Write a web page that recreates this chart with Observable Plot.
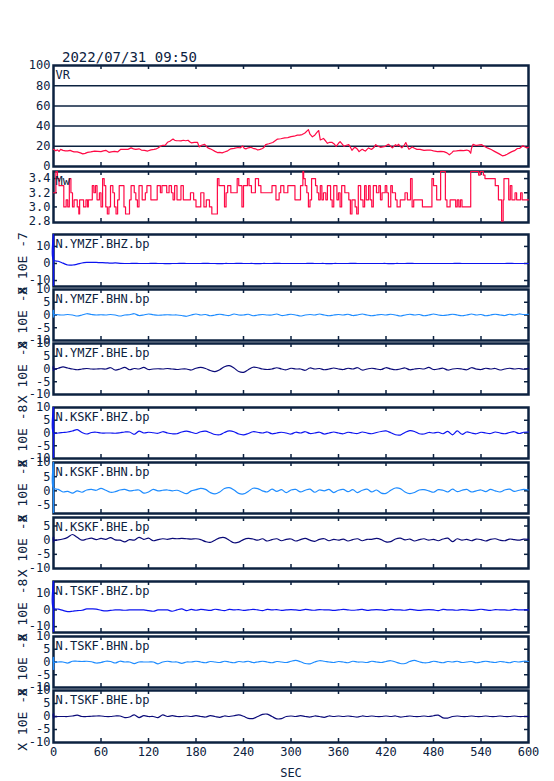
<!DOCTYPE html>
<html><head><meta charset="utf-8">
<script src="https://cdn.jsdelivr.net/npm/d3@7"></script>
<script src="https://cdn.jsdelivr.net/npm/@observablehq/plot@0.6"></script>
<style>
body{margin:0;background:#fff;}
#wrap{position:relative;width:554px;height:781px;font-family:"DejaVu Sans Mono",monospace;color:#0c2240;}
#title{position:absolute;left:62px;top:49px;font-size:14px;line-height:16px;white-space:pre;}
</style></head><body>
<div id="wrap"><div id="title">2022/07/31 09:50</div></div>
<script>
// ---------- data ----------
const xTickMarks = [60,120,180,240,300,360,420,480,540];
const xTickLabels = [0,60,120,180,240,300,360,420,480,540,600];

const vrSec = [0,3,5,7,9,12,15,18,21,24,26,30,34,37,40,43,47,52,56,60,63,66,70,73,77,81,85,89,94,98,101,104,108,111,115,119,123,127,130,132,135,138,141,144,147,151,153,155,158,161,164,167,170,172,174,178,182,184,187,191,193,195,198,201,204,207,210,213,216,220,224,228,233,236,239,241,243,246,249,252,255,258,261,264,266,268,272,277,280,283,287,292,296,300,304,308,311,314,316,318,320,322,324,327,330,333,335,337,339,341,344,346,349,352,355,357,360,362,365,367,370,373,375,377,379,381,384,386,388,390,392,394,396,398,400,402,405,407,410,413,416,419,421,423,426,428,430,432,434,436,438,440,443,445,447,449,451,453,456,459,463,468,472,476,480,485,489,493,497,500,503,505,509,514,518,522,525,527,528,530,533,535,538,541,544,548,551,554,557,560,563,567,570,573,576,579,583,586,589,593,595,598,600];
const vrVal = [17,15.5,16.5,15,17,16,15.5,15.5,16,15,14.5,14.5,13.5,12.5,13,14,14.5,15.3,15,14.7,15.5,16,14,14.5,15,14.4,17,17,17,18.4,17.5,17,17.5,16.3,16,15.3,16.5,17,17.5,18.4,20,21,21,24,25,27.2,26,25.6,25.5,25.3,26,25.5,26,24.5,23.4,23.8,23.8,19.4,21,22,20,18.4,17.5,16.3,15,13.8,14,13.5,14.4,15.5,17.5,18,18.8,18.5,20.3,18,17.5,18.5,19,18,17.5,16.3,17,17.8,19,21.6,22.5,23.8,25.5,27.2,27.5,28.4,28.6,29.6,30,31,31,31.6,32.5,33.4,35,36.5,32,29.4,31,34,35.6,26.3,27,27.8,25,23,24,23.8,22,20,23,24.7,22,20,21,21.6,19,16,18,19,17,14.7,16,17,16,15.3,17,18.4,17.5,17,19,21.6,20,19,19.5,20,21,22,20,18.4,20,21.6,20.5,22,20,18.4,21,23.75,20,17,18,19.4,18,17,17,16,16.3,16.3,15.5,14.7,15,14.7,13.5,11.6,13.5,15.3,15.5,16,15.8,16.3,15.5,13.1,18,22,21,21,21.5,21.6,20,18.4,17.5,16.3,15,13.75,12.5,10.6,11,12.2,13.5,14.7,16,17.8,18,20.6,19.5,18.4,19];

const mwSec = [0,3,5,7,13,16,18,20,22,24,26,30,32,33,38,41,43,44,49,51,53,55,58,60,62,64,66,68,70,72,75,77,79,81,83,89,91,96,98,102,104,106,108,112,116,118,123,131,135,137,143,146,149,151,153,156,161,164,173,177,180,186,190,193,197,200,207,209,216,218,220,224,232,234,238,240,245,247,250,255,259,262,276,281,285,287,291,296,305,312,315,316,318,320,322,324,326,331,333,335,337,339,341,344,346,350,352,354,358,360,362,364,368,373,375,377,381,383,385,388,391,393,395,398,400,402,404,408,411,413,415,419,421,423,426,428,432,434,438,444,447,451,453,455,466,478,480,484,489,495,497,501,508,510,512,514,516,527,537,539,543,545,558,562,566,568,569,573,575,577,579,583,585,590,592,600];
const mwVal = [3.2,3.5,3.4,3.3,3.0,3.1,3.0,3.4,3.2,3.0,3.1,3.0,2.9,3.1,3.0,3.1,3.0,3.1,3.3,3.2,3.3,3.1,3.2,3.0,3.4,3.3,3.0,2.9,3.0,3.3,3.2,3.0,2.9,3.1,3.3,3.0,2.9,3.1,3.3,3.2,3.1,3.0,3.3,3.1,3.2,3.3,3.1,3.3,3.2,3.3,3.2,3.3,3.2,3.1,3.3,3.1,3.3,3.1,3.2,3.1,3.0,3.2,3.0,3.1,3.0,2.9,3.4,3.3,3.0,3.2,3.3,3.2,3.4,3.3,3.0,3.3,3.4,3.3,3.2,3.4,3.3,3.2,3.3,3.1,3.2,3.3,3.2,3.3,3.1,3.3,3.5,3.4,3.3,3.2,3.0,3.1,3.4,3.3,3.2,3.1,3.3,3.1,3.2,3.1,3.3,3.1,3.0,3.3,3.1,3.2,3.0,3.3,3.2,3.1,2.9,3.1,3.0,2.9,3.3,3.1,3.0,3.3,3.1,3.3,3.1,3.0,3.3,3.2,3.3,3.1,3.2,3.3,3.2,3.0,3.3,3.2,3.1,3.0,3.1,3.2,3.1,3.4,3.0,3.1,3.0,3.4,3.3,3.1,3.5,3.1,3.0,3.1,3.0,3.1,3.0,3.1,3.0,3.5,3.45,3.5,3.45,3.4,3.3,3.1,2.8,3.1,3.4,3.4,3.1,3.3,3.1,3.2,3.1,3.2,3.1,3.1];

// seismogram samples every 6 s (0..600)
const seisT = d3.range(0, 601, 6);
const ymzfBHZ = [2.0,1.3,0.2,-0.9,-0.9,-0.4,0.3,0.6,0.7,0.6, 0.5,0.4,0.2,0.3,0.1,0,0,0.1,0,0, 0,0.1,0,0,-0.1,0,0,0.1,0,0, 0,0,0.1,0,0,-0.1,0,0,0,0.1, 0,0,0,-0.1,0,0,0,0.1,0,0, 0,0,0,0,0.1,0,0,0,-0.1,0, 0,0,0,0.1,0,0,0,0,0,0, 0,-0.1,0,0,0,0.1,0,0,0,0, 0,0,0,0,0,0.1,0,0,0,0, 0,0,0,0,0,0,0.1,0,0,0, 0];
const ymzfBHN = [0.3,0.1,0,0.2,0,-0.4,0,0.5,0.2,0, 0.1,0,0.2,0,-0.4,0,0.1,0.5,-0.2,0, 0.4,0.1,-0.1,0,0.1,0,0,-0.2,-0.5,0, 0.4,0,0.2,-0.3,0,0.3,0,-0.2,0.4,0, 0,0.3,-0.3,0,0.2,0,0,0.4,-0.2,0, 0.3,0,-0.4,0,0.2,0,0.4,0,-0.3,0, 0.2,0,0.3,-0.2,0,0.4,0,-0.3,0,0.2, 0,0.3,0,-0.4,0,0.3,0,0.2,-0.3,0, 0.4,0,-0.2,0,0.3,0,-0.3,0,0.4,0, 0.2,-0.3,0,0.3,0,-0.2,0.3,0,0.4,0.2, 0.3];
const ymzfBHE = [0,0.3,0.8,0.4,0,-0.3,0,0.2,0,0, 0.1,0,0.5,-0.4,0,0.6,-0.3,0.2,0,0.6, -0.2,0,0.1,0,0.2,0,-0.2,0,0,-0.4, 0.3,0.6,0.2,-0.6,-1.0,-0.3,0.9,1.3,0.4,-1.0, -1.3,-0.3,0.7,0.5,0,-0.2,0,0.5,0,-0.3, 0.3,0,0,-0.5,0.4,0,0.2,-0.3,0,0.4, 0,-0.2,0.3,0,0.5,-0.4,0,0.3,0,-0.2, 0.5,0,-0.3,0,0.4,-0.3,0,0.2,0,0.6, -0.2,0,0.3,-0.4,0,0.2,0,-0.3,0.5,0, -0.2,0.3,0,0.2,-0.4,0,0.3,0,0.2,-0.1, 0.3];
const kskfBHZ = [0,0,0.2,0.4,0.8,1.3,0.2,-0.4,0.2,0.3, 0,0,0,-0.1,0.1,0.4,0.4,-0.5,0.7,0, 0.3,0.1,-0.1,0.5,0,-0.3,-0.3,0.4,0.7,0.3, -0.2,0.5,0.7,0.1,-0.6,-0.7,0.2,0.8,0.5,-0.4, -0.7,-0.2,0.5,0.3,0,0.4,-0.3,0,0.3,0, -0.4,0.3,0,0.5,-0.2,0,0.3,-0.4,0,0.4, 0,-0.3,0.3,0,-0.2,0.4,0,-0.3,0.2,0.6, 0.8,0.1,-0.7,-0.8,0.2,0.9,0.6,-0.3,-0.4,0.2, 0,0.3,-0.3,0.6,-0.7,0.8,-0.5,0.4,0,-0.3, 0.3,0,-0.2,0.4,0,-0.3,0.2,0.5,-0.2,0.3, 0.4];
const kskfBHN = [1.0,0.5,-0.4,-0.2,-0.8,0,-0.5,0.3,0.5,0.2, 0.9,0.2,-0.5,-0.3,0.3,0.5,0,0.2,0.3,-0.8, -0.4,0.5,0,0.2,0.3,0,0.2,-0.4,-1.0,0, 0.4,0.9,0.5,-0.6,-1.1,-0.4,0.8,1.1,0.3,-0.9, -1.1,-0.2,0.9,0.8,0,-0.4,0.6,-0.2,0.4,-0.6, 0.3,0.5,-0.4,0.2,0.6,-0.5,0.3,0,0.5,-0.6, 0.2,0.5,-0.3,0.4,-0.6,0.2,0.6,-0.4,0.3,-0.8, -0.9,0.2,1.0,0.8,-0.4,-1.0,-0.6,0.3,0.4,0, -0.5,0.4,0.2,-0.4,0.6,-0.3,0.2,0.5,-0.4,0, 0.3,-0.3,0.5,0,-0.4,0.3,0.6,-0.2,0.2,0.5, 0.3];
const kskfBHE = [0,0.1,0.4,1.0,2.0,1.0,0,0.4,0.7,0.2, 0.6,0.3,0.9,0.1,0,-0.6,0.2,0,1.0,0.3, 0.7,-0.2,0.2,0.5,0.3,0.6,0.5,0.6,0.5,0.4, 0.5,0.2,-0.5,-0.8,0,0.8,0.9,0,-0.9,-0.7, 0.2,0.6,0.4,0,0.5,-0.3,0.2,0.5,-0.2,0.3, 0.4,-0.3,0.2,0.6,0,-0.4,0.3,0.5,-0.2,0.3, 0,0.4,-0.3,0.2,0.5,-0.2,0.3,0.3,0.6,0.2, -0.6,-0.5,0.4,0.7,0.1,0.4,-0.3,0.2,0.5,0, 0.3,-0.2,0.4,0.7,-0.5,0.5,0,0.3,-0.2,0.4, 0.2,-0.3,0.3,0.5,0,-0.2,0.4,0.2,0,0.4, 0.3];
const tskfBHZ = [1.0,0.5,-0.3,-1.0,-0.8,-0.4,-0.2,0.6,0.6,0.5, -0.2,-0.6,-0.3,0,0,-0.2,0,0,0,0, -0.4,-0.8,0,0,0,-0.8,0,0.6,-0.4,0.3, -0.2,0.3,0,-0.3,0.4,0,-0.4,0.3,0,0.2, -0.3,0,0.3,0,-0.4,0.3,0,0.2,-0.3,0, 0.2,0,-0.3,0.3,0,-0.2,0.2,0,0,-0.3, 0,0.3,0,-0.2,0,0.3,-0.3,0,0.2,0, -0.3,0.3,0,0,-0.2,0.3,0,-0.3,0,0.2, 0,-0.4,0.3,0,0,-0.2,0.2,0,-0.3,0, 0.4,0,-0.3,0.2,0,0,-0.2,0.3,0,0, 0];
const tskfBHN = [0,0,0,-0.4,0.3,0.3,0.2,0.3,0.1,-0.4, -0.2,0.3,0.2,-0.4,0.3,0,0,-0.6,0,0, 0,0,-0.7,0,0.3,0,0,-0.5,0,0, 0.3,0,-0.3,0.2,0,-0.2,0.3,0,-0.3,0.2, 0,0.3,-0.2,0,0.3,0,-0.3,0.2,0,-0.2, 0.3,0.6,0.1,-0.6,-0.7,0,0.5,0.3,0,-0.2, 0.2,0,-0.3,0.3,0,0,-0.2,0.3,0,-0.2, 0.2,0.5,0,-0.6,-0.6,0.2,0.6,0.1,-0.3,-0.2, 0.3,0,-0.3,0.2,0,0.3,-0.2,0,0.2,-0.3, 0,0.3,0,-0.2,0.2,0,-0.3,0.2,0,0.3, 0.2];
const tskfBHE = [0,0,0,0,0.2,0.5,0,0,0.1,0.2, 0.2,0,0,0.2,0.2,-0.4,-0.2,0.6,-0.4,0.3, 0,0,-0.4,0.6,0,0.3,0,0,0.2,0, 0.3,0,-0.2,0.3,0,-0.3,0.2,0,0.3,0.6, 0.1,-0.7,-0.8,0,0.8,0.9,0,-0.9,-0.8,0, 0.2,0,0.3,0,-0.2,0.2,0,-0.3,0.2,0, 0.2,0,0.2,0,-0.2,0.2,0,0.2,0,0, 0.2,0,0.2,-0.2,0,0.2,0,0,0.2,0, 0.3,0.5,-0.5,-0.6,0,0.2,0,0,0.2,0, 0,0.2,0,0,0.2,0,0,0.2,0,0, 0];
// start-of-trace transients (clipped at the panel limits): [high, low] at t = 0
const ymzfBHZStart = [17,-13.5], ymzfBHNStart = [1.8,-1.2], ymzfBHEStart = [1,-1];
const kskfBHZStart = [10,-10], kskfBHNStart = [10,-8], kskfBHEStart = [1,-1];
const tskfBHZStart = [17,-13.5], tskfBHNStart = [1.8,-3.3], tskfBHEStart = [1,-1];

// ---------- drawing ----------
const NAVY = "#0c2240", RED = "#ff0a46";
const BHZ = "#0c14f0", BHN = "#1e8cff", BHE = "#0a0a78";
const wrap = document.getElementById("wrap");
const PW = 554 - 53 - 26;
const fmt = d => String(d);

function panel({top, h, domain, labels, tickFormat = fmt, inner = [], grid = null, name, unit = null, lines, bottomAxis = false}) {
  const mt = 12, mb = bottomAxis ? 45 : 8;
  const marks = [Plot.frame({stroke: NAVY, strokeWidth: 2.5})];
  if (grid) marks.push(Plot.ruleY(grid, {y: d => d, stroke: NAVY, strokeWidth: 1.5}));
  marks.push(
    Plot.ruleX(xTickMarks, {x: d => d, insetBottom: h - 4, stroke: NAVY, strokeWidth: 1.5}),
    Plot.ruleX(xTickMarks, {x: d => d, insetTop: h - 4, stroke: NAVY, strokeWidth: 1.5})
  );
  if (inner.length) marks.push(
    Plot.ruleY(inner, {y: d => d, insetRight: PW - 4, stroke: NAVY, strokeWidth: 1.5}),
    Plot.ruleY(inner, {y: d => d, insetLeft: PW - 4, stroke: NAVY, strokeWidth: 1.5})
  );
  marks.push(Plot.axisY({ticks: labels, anchor: "left", tickSize: 0, tickPadding: 3, label: null, tickFormat, fontSize: 12}));
  if (bottomAxis) marks.push(
    Plot.axisX({ticks: xTickLabels, anchor: "bottom", tickSize: 0, tickPadding: 5, label: null, tickFormat: fmt, fontSize: 12}),
    Plot.text(["SEC"], {frameAnchor: "bottom", dy: 31, lineAnchor: "middle", fontSize: 12, fill: NAVY})
  );
  if (unit) marks.push(Plot.text([unit], {frameAnchor: "left", textAnchor: "middle", lineAnchor: "middle", rotate: -90, dx: -31, dy: 3, fontSize: 13, fill: NAVY}));
  marks.push(...lines);
  marks.push(Plot.text([name], {frameAnchor: "top-left", dx: 2, dy: 5, fontSize: 12, fill: NAVY}));
  const el = Plot.plot({
    width: 554, height: h + mt + mb,
    marginLeft: 53, marginRight: 26, marginTop: mt, marginBottom: mb,
    x: {domain: [0, 600], axis: null},
    y: {domain, axis: null},
    style: {background: "transparent", overflow: "visible", fontFamily: "DejaVu Sans Mono, monospace", fontSize: "12px", color: NAVY},
    marks
  });
  el.style.position = "absolute";
  el.style.left = "0px";
  el.style.top = (top - mt) + "px";
  wrap.appendChild(el);
}

const vrData = vrSec.map((t, i) => ({t, v: vrVal[i]}));
const mwData = mwSec.map((t, i) => ({t, v: mwVal[i]}));

panel({top: 65, h: 101, domain: [0, 100], labels: [0,20,40,60,80,100], grid: [20,40,60,80], name: "VR",
  lines: [Plot.line(vrData, {x: "t", y: "v", stroke: RED, strokeWidth: 1.2})]});
panel({top: 171, h: 51, domain: [2.78, 3.5], labels: [2.8,3.0,3.2,3.4], tickFormat: d3.format(".1f"), inner: [3.0,3.2,3.4], name: "Mw",
  lines: [Plot.line(mwData, {x: "t", y: "v", stroke: RED, strokeWidth: 1.2, curve: "step-after"})]});

const L10 = [10,5,0,-5,-10];
const seisPanels = [
  {top: 234, h: 52, domain: [-13.5, 17], labels: [10,0,-10], inner: [10,0,-10], name: "N.YMZF.BHZ.bp", unit: "X 10E -7", vals: ymzfBHZ, start: ymzfBHZStart, color: BHZ},
  {top: 289, h: 51, domain: [-10, 10], labels: L10, inner: [5,0,-5], name: "N.YMZF.BHN.bp", unit: "X 10E -8", vals: ymzfBHN, start: ymzfBHNStart, color: BHN},
  {top: 343, h: 51, domain: [-10, 10], labels: L10, inner: [5,0,-5], name: "N.YMZF.BHE.bp", unit: "X 10E -8", vals: ymzfBHE, start: ymzfBHEStart, color: BHE},
  {top: 407, h: 51, domain: [-10, 10], labels: L10, inner: [5,0,-5], name: "N.KSKF.BHZ.bp", unit: "X 10E -8", vals: kskfBHZ, start: kskfBHZStart, color: BHZ},
  {top: 462, h: 51, domain: [-8, 10], labels: [10,5,0,-5], inner: [5,0,-5], name: "N.KSKF.BHN.bp", unit: "X 10E -8", vals: kskfBHN, start: kskfBHNStart, color: BHN},
  {top: 517, h: 51, domain: [-10, 8], labels: [5,0,-5,-10], inner: [5,0,-5], name: "N.KSKF.BHE.bp", unit: "X 10E -8", vals: kskfBHE, start: kskfBHEStart, color: BHE},
  {top: 581, h: 51, domain: [-13.5, 17], labels: [10,0,-10], inner: [10,0,-10], name: "N.TSKF.BHZ.bp", unit: "X 10E -8", vals: tskfBHZ, start: tskfBHZStart, color: BHZ},
  {top: 636, h: 51, domain: [-10, 10], labels: L10, inner: [5,0,-5], name: "N.TSKF.BHN.bp", unit: "X 10E -8", vals: tskfBHN, start: tskfBHNStart, color: BHN},
  {top: 690, h: 52, domain: [-10, 10], labels: L10, inner: [5,0,-5], name: "N.TSKF.BHE.bp", unit: "X 10E -8", vals: tskfBHE, start: tskfBHEStart, color: BHE, bottomAxis: true}
];
for (const p of seisPanels) {
  const trace = seisT.map((t, i) => ({t, v: p.vals[i]}));
  panel({...p, lines: [
    Plot.ruleX([{t: 0, hi: p.start[0], lo: p.start[1]}], {x: "t", y1: "hi", y2: "lo", stroke: p.color, strokeWidth: 1.4}),
    Plot.line([{t: 0, v: p.start[0]}, ...trace], {x: "t", y: "v", stroke: p.color, strokeWidth: 1.2, curve: "catmull-rom"})
  ]});
}
</script>
</body></html>
